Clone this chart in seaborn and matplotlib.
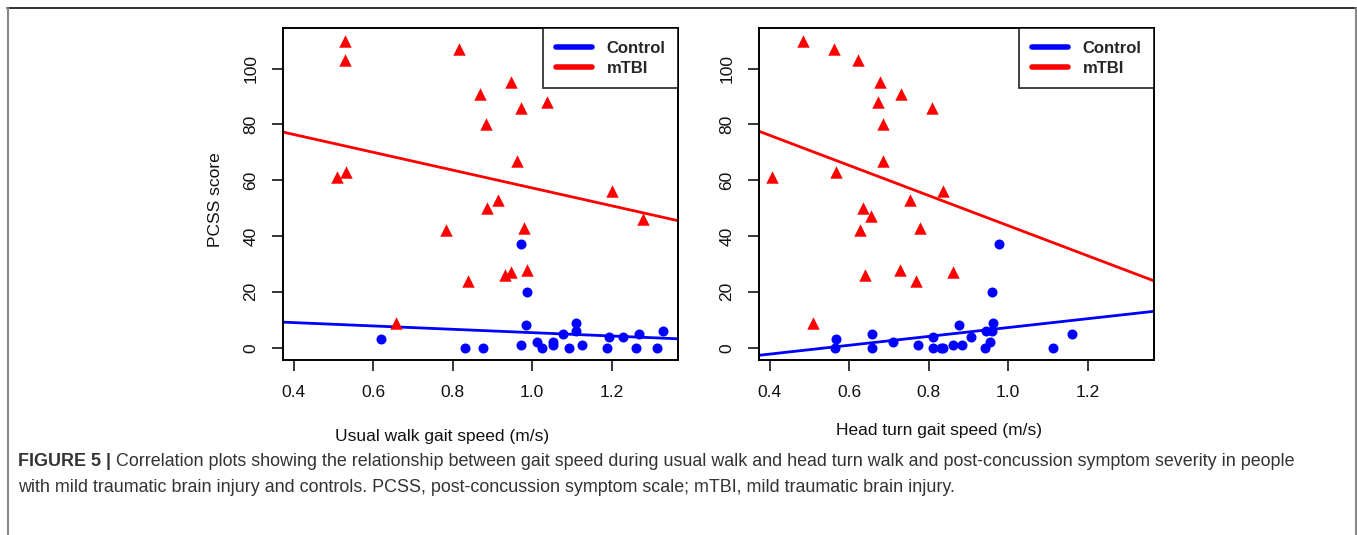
import matplotlib
matplotlib.use("Agg")
import matplotlib.pyplot as plt
import seaborn as sns
import pandas as pd
from matplotlib.lines import Line2D

# ---- data ----
usual_ctrl_x = [0.620, 0.831, 0.877, 0.971, 0.972, 0.984, 0.986, 1.012, 1.024, 1.051, 1.051, 1.078,
                1.093, 1.110, 1.110, 1.125, 1.187, 1.194, 1.228, 1.261, 1.269, 1.313, 1.330]
usual_ctrl_y = [3, 0, 0, 37, 1, 8, 20, 2, 0, 1, 2, 5, 0, 9, 6, 1, 0, 4, 4, 0, 5, 0, 6]

usual_mtbi_x = [0.509, 0.528, 0.528, 0.532, 0.657, 0.784, 0.816, 0.838, 0.869, 0.884, 0.887,
                0.915, 0.932, 0.946, 0.946, 0.961, 0.972, 0.980, 0.986, 1.037, 1.200, 1.279]
usual_mtbi_y = [61, 103, 110, 63, 9, 42, 107, 24, 91, 80, 50, 53, 26, 95, 27, 67, 86, 43, 28, 88, 56, 46]

head_ctrl_x = [0.564, 0.566, 0.657, 0.657, 0.709, 0.774, 0.810, 0.812, 0.831, 0.837, 0.862, 0.875,
               0.883, 0.906, 0.942, 0.944, 0.954, 0.959, 0.959, 0.961, 0.976, 1.112, 1.160]
head_ctrl_y = [0, 3, 0, 5, 2, 1, 0, 4, 0, 0, 1, 8, 1, 4, 0, 6, 2, 6, 20, 9, 37, 0, 5]

head_mtbi_x = [0.407, 0.485, 0.509, 0.562, 0.568, 0.621, 0.627, 0.635, 0.640, 0.654, 0.673,
               0.678, 0.684, 0.686, 0.728, 0.730, 0.753, 0.768, 0.778, 0.808, 0.835, 0.860]
head_mtbi_y = [61, 110, 9, 107, 63, 103, 42, 50, 26, 47, 88, 95, 80, 67, 28, 91, 53, 24, 43, 86, 56, 27]

xticks = [0.4, 0.6, 0.8, 1.0, 1.2]
xticklabels = ["0.4", "0.6", "0.8", "1.0", "1.2"]
yticks = [0, 20, 40, 60, 80, 100]

panels = [
    ("Usual walk gait speed (m/s)", usual_ctrl_x, usual_ctrl_y, usual_mtbi_x, usual_mtbi_y),
    ("Head turn gait speed (m/s)", head_ctrl_x, head_ctrl_y, head_mtbi_x, head_mtbi_y),
]

sns.set_style("ticks")
plt.rcParams['font.family'] = ['Liberation Sans', 'DejaVu Sans']

fig = plt.figure(figsize=(13.57, 5.35), dpi=100)
W, H = 1357, 535

def fx(px):
    return px / W

def fy(py):
    return 1 - py / H

ax_lefts = [283.3, 759.3]
ax_w = 394.5
xlabel_pos = [(441.7, 436), (939, 431)]

for i, (xlab, cx, cy, mx, my) in enumerate(panels):
    ax = fig.add_axes([fx(ax_lefts[i]), fy(360), ax_w / W, (360 - 28.3) / H])
    ax.set_xlim(0.374, 1.366)
    ax.set_ylim(-4.4, 114.4)

    ctrl = pd.DataFrame({"speed": cx, "pcss": cy})
    mtbi = pd.DataFrame({"speed": mx, "pcss": my})

    sns.scatterplot(data=mtbi, x="speed", y="pcss", marker="^", color="#ff0000",
                    s=80, linewidth=0, ax=ax, zorder=3)
    sns.scatterplot(data=ctrl, x="speed", y="pcss", marker="o", color="#0000ff",
                    s=52, linewidth=0, ax=ax, zorder=3)
    sns.regplot(data=mtbi, x="speed", y="pcss", scatter=False, ci=None, truncate=False,
                color="#ff0000", line_kws={"lw": 2}, ax=ax)
    sns.regplot(data=ctrl, x="speed", y="pcss", scatter=False, ci=None, truncate=False,
                color="#0000ff", line_kws={"lw": 2}, ax=ax)
    ax.set_xlim(0.374, 1.366)
    ax.set_ylim(-4.4, 114.4)

    ax.set_xlabel("")
    ax.set_ylabel("")
    ax.set_xticks(xticks)
    ax.set_xticklabels(xticklabels)
    ax.set_yticks(yticks)
    ax.set_yticklabels([str(v) for v in yticks], rotation=90, va="center")
    ax.tick_params(axis="both", length=8, width=1.1, color="black",
                   labelsize=12.5, labelcolor="#111111")
    ax.tick_params(axis="x", pad=10)
    ax.tick_params(axis="y", pad=10)
    for sp in ax.spines.values():
        sp.set_visible(True)
        sp.set_color("black")
        sp.set_linewidth(1.4)

    handles = [Line2D([], [], color="#0000ff", lw=4, solid_capstyle="round"),
               Line2D([], [], color="#ff0000", lw=4, solid_capstyle="round")]
    leg = ax.legend(handles, ["Control", "mTBI"], loc="upper right",
                    prop={"weight": "bold", "size": 12}, frameon=True, fancybox=False,
                    borderaxespad=0, handlelength=2.2, handletextpad=0.85,
                    borderpad=0.75, labelspacing=0.3)
    leg.get_frame().set_edgecolor("black")
    leg.get_frame().set_linewidth(1.3)

    fig.text(fx(xlabel_pos[i][0]), fy(xlabel_pos[i][1]), xlab, ha="center", va="center",
             fontsize=12.5, color="#111111")

fig.text(fx(215), fy(200), "PCSS score", rotation=90, ha="center", va="center",
         fontsize=12.5, color="#111111")

# page frame
fig.add_artist(Line2D([fx(7), fx(1357)], [fy(8), fy(8)], color="#222222", lw=1.3))
fig.add_artist(Line2D([fx(7.5), fx(7.5)], [fy(8), fy(535)], color="#888888", lw=1.5))
fig.add_artist(Line2D([fx(1355.5), fx(1355.5)], [fy(8), fy(535)], color="#888888", lw=1.5))

# caption
cap_bold = "FIGURE 5 |"
cap_rest1 = (" Correlation plots showing the relationship between gait speed during usual walk and "
             "head turn walk and post-concussion symptom severity in people")
cap_line2 = ("with mild traumatic brain injury and controls. PCSS, post-concussion symptom scale; "
             "mTBI, mild traumatic brain injury.")
cap_size = 12.9
t_bold = fig.text(fx(18), fy(462), cap_bold, fontsize=cap_size, fontweight="bold",
                  color="#333333", va="center")
fig.canvas.draw()
bb = t_bold.get_window_extent()
fig.text(bb.x1 / W, fy(462), cap_rest1, fontsize=cap_size, color="#333333", va="center")
fig.text(fx(18), fy(488), cap_line2, fontsize=cap_size, color="#333333", va="center")

fig.savefig("out.png", dpi=100)
